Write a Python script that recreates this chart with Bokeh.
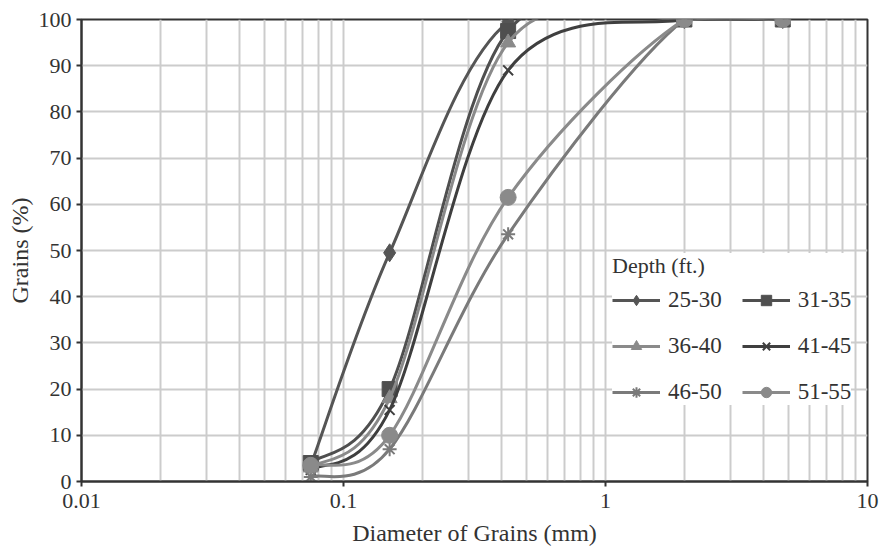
import math
from bokeh.plotting import figure
from bokeh.models import (Legend, LegendItem, FixedTicker, Range1d)
from bokeh.embed import file_html
from bokeh.resources import INLINE

# ---------------- data ----------------
diameters = [0.075, 0.15, 0.425, 2.0, 4.75]
series_names = ["25-30", "31-35", "36-40", "41-45", "46-50", "51-55"]
s_25_30 = [3.5, 49.5, 99.5, 100, 100]
s_31_35 = [4.0, 20.0, 97.5, 100, 100]
s_36_40 = [3.0, 18.0, 95.0, 100, 100]
s_41_45 = [2.5, 15.5, 89.0, 100, 100]
s_46_50 = [1.0, 7.0, 53.5, 100, 100]
s_51_55 = [3.5, 10.0, 61.5, 100, 100]
series_values = [s_25_30, s_31_35, s_36_40, s_41_45, s_46_50, s_51_55]

x_tick_values = [0.01, 0.1, 1, 10]
x_tick_labels = ["0.01", "0.1", "1", "10"]
y_tick_values = [0, 10, 20, 30, 40, 50, 60, 70, 80, 90, 100]

# ---------------- styles ----------------
colors = ["#555555", "#4f4f4f", "#8a8a8a", "#3f3f3f", "#7a7a7a", "#8a8a8a"]
markers = ["diamond", "square", "triangle", "x", "asterisk", "circle"]
msizes = [18, 15, 15, 14, 14, 16]
FONT = "Liberation Serif"

p = figure(width=881, height=548, x_axis_type="log",
           x_range=Range1d(0.01, 10), y_range=Range1d(0, 100),
           output_backend="svg", toolbar_location=None,
           min_border_left=81, min_border_right=14,
           min_border_top=19, min_border_bottom=66)
p.background_fill_color = "white"
p.border_fill_color = "white"
p.outline_line_color = "#333333"
p.outline_line_width = 2

minor = [k * 10.0 ** e for e in (-2, -1, 0) for k in range(2, 10)]
p.xaxis.ticker = FixedTicker(ticks=x_tick_values, minor_ticks=minor)
p.xaxis.major_label_overrides = {v: l for v, l in zip(x_tick_values, x_tick_labels)}
p.yaxis.ticker = FixedTicker(ticks=y_tick_values)

for ax in (p.xaxis, p.yaxis):
    ax.axis_line_color = "#333333"
    ax.axis_line_width = 2
    ax.major_tick_line_color = "#333333"
    ax.major_tick_line_width = 2
    ax.major_tick_out = 5
    ax.major_tick_in = 0
    ax.minor_tick_line_color = None
    ax.major_label_text_font = FONT
    ax.major_label_text_font_size = "22px"
    ax.major_label_text_color = "#333333"
    ax.axis_label_text_font = FONT
    ax.axis_label_text_font_size = "24px"
    ax.axis_label_text_font_style = "normal"
    ax.axis_label_text_color = "#333333"

p.xaxis.axis_label = "Diameter of Grains (mm)"
p.yaxis.axis_label = "Grains (%)"
p.xaxis.major_label_standoff = 7
p.xaxis.axis_label_standoff = 9
p.yaxis.major_label_standoff = 5
p.yaxis.axis_label_standoff = 3

p.xgrid.grid_line_color = "#cccccc"
p.xgrid.grid_line_width = 2
p.xgrid.minor_grid_line_color = "#cccccc"
p.xgrid.minor_grid_line_width = 2
p.ygrid.grid_line_color = "#cccccc"
p.ygrid.grid_line_width = 2

items = []
for name, vals, col, mk, ms in zip(series_names, series_values, colors, markers, msizes):
    lx = [math.log10(d) for d in diameters]
    n = len(vals)
    x0, y0, x1, y1, cx0, cy0, cx1, cy1 = [], [], [], [], [], [], [], []
    for i in range(n - 1):
        a = max(i - 1, 0)
        b = min(i + 2, n - 1)
        x0.append(diameters[i]); y0.append(vals[i])
        x1.append(diameters[i + 1]); y1.append(vals[i + 1])
        cx0.append(10 ** (lx[i] + (lx[i + 1] - lx[a]) / 6.0))
        cy0.append(vals[i] + (vals[i + 1] - vals[a]) / 6.0)
        cx1.append(10 ** (lx[i + 1] - (lx[b] - lx[i]) / 6.0))
        cy1.append(vals[i + 1] - (vals[b] - vals[i]) / 6.0)
    rb = p.bezier(x0=x0, y0=y0, x1=x1, y1=y1, cx0=cx0, cy0=cy0, cx1=cx1, cy1=cy1,
                  line_color=col, line_width=3)
    if mk in ("x", "asterisk"):
        rs = p.scatter(diameters, vals, marker=mk, size=ms, line_color=col,
                       line_width=2, fill_color=None)
    else:
        rs = p.scatter(diameters, vals, marker=mk, size=ms, line_color=col,
                       fill_color=col, line_width=1)
    items.append(LegendItem(label=name, renderers=[rb, rs]))

legend = Legend(items=items, location=(531, 76), orientation="horizontal", ncols=2,
                title="Depth (ft.)")
legend.title_text_font = FONT
legend.title_text_font_size = "22px"
legend.title_text_font_style = "normal"
legend.title_text_color = "#333333"
legend.label_text_font = FONT
legend.label_text_font_size = "23px"
legend.label_text_color = "#333333"
legend.glyph_width = 48
legend.glyph_height = 26
legend.label_height = 26
legend.label_standoff = 8
legend.spacing = 20
legend.padding = 8
legend.margin = 0
legend.title_standoff = 8
legend.border_line_color = None
legend.background_fill_color = "white"
legend.background_fill_alpha = 1.0
p.add_layout(legend, "center")

open("out.html", "w").write(file_html(p, INLINE))
